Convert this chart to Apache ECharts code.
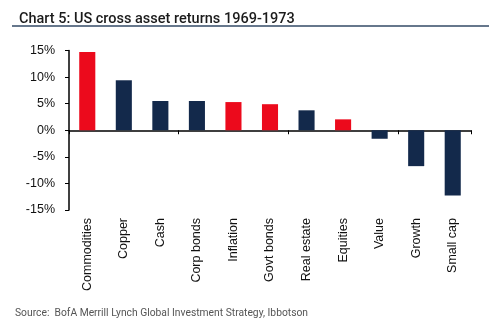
<!DOCTYPE html>
<html>
<head>
<meta charset="utf-8">
<script src="https://cdn.jsdelivr.net/npm/echarts@6/dist/echarts.min.js"></script>
<style>
  html, body { margin: 0; padding: 0; background: #fff; }
  #chart { width: 500px; height: 327px; }
</style>
</head>
<body>
<div id="chart"></div>
<script>
// asset classes, returns in % (1969-1973)
const categories = ['Commodities', 'Copper', 'Cash', 'Corp bonds', 'Inflation', 'Govt bonds',
  'Real estate', 'Equities', 'Value', 'Growth', 'Small cap'];
const returns = [14.7, 9.4, 5.5, 5.5, 5.3, 4.9, 3.75, 2.05, -1.6, -6.75, -12.25];
// real assets highlighted in red
const highlighted = ['Commodities', 'Inflation', 'Govt bonds', 'Equities'];

const RED = '#ec0a1c';
const NAVY = '#13294b';

const chart = echarts.init(document.getElementById('chart'));

chart.setOption({
  animation: false,
  title: {
    text: 'Chart 5: US cross asset returns 1969-1973',
    left: 14, top: 7,
    textStyle: { fontFamily: 'Roboto, sans-serif', fontSize: 14.5, fontWeight: 500, color: '#1b1b1b' }
  },
  graphic: [
    { type: 'line', shape: { x1: 12, y1: 26, x2: 489, y2: 26 }, style: { stroke: '#66778c', lineWidth: 2 } },
    {
      type: 'text', left: 15, top: 308,
      style: { text: 'Source:  BofA Merrill Lynch Global Investment Strategy, Ibbotson', fontSize: 10.3,
        fontFamily: 'Roboto, sans-serif', fill: '#555' }
    }
  ],
  grid: { left: 69, right: 29, top: 50.5, bottom: 117 },
  xAxis: [
    {
      type: 'category', data: categories,
      axisLine: { onZero: true, lineStyle: { color: '#000', width: 1.5 } },
      axisTick: { show: true, alignWithLabel: false, inside: false, length: 4, lineStyle: { color: '#000' } },
      axisLabel: { show: false }
    },
    {
      type: 'category', data: categories, position: 'bottom',
      axisLine: { show: false, onZero: false }, axisTick: { show: false },
      axisLabel: { rotate: 90, interval: 0, margin: 8, fontSize: 12.5, color: '#111', fontFamily: 'Liberation Sans, Arial, sans-serif' }
    }
  ],
  yAxis: {
    type: 'value', min: -15, max: 15, interval: 5,
    axisLine: { show: true, lineStyle: { color: '#000', width: 1.5 } },
    axisTick: { show: true, length: 4, lineStyle: { color: '#000' } },
    splitLine: { show: false },
    axisLabel: { formatter: '{value}%', fontSize: 12.5, margin: 14, color: '#111', fontFamily: 'Liberation Sans, Arial, sans-serif' }
  },
  series: [{
    type: 'bar',
    xAxisIndex: 0,
    barWidth: '44%',
    data: returns.map((v, i) => ({
      value: v,
      itemStyle: { color: highlighted.includes(categories[i]) ? RED : NAVY }
    }))
  }]
});
</script>
</body>
</html>
